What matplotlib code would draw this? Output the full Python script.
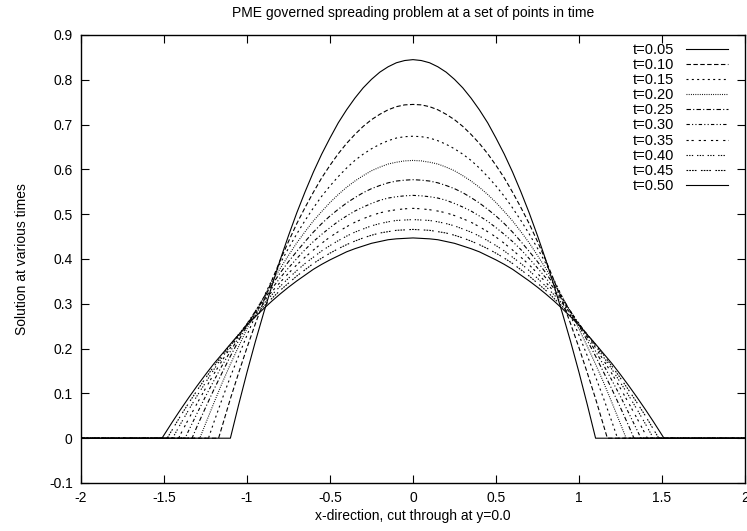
import numpy as np
import matplotlib
matplotlib.use("Agg")
import matplotlib.pyplot as plt

plt.rcParams['font.family'] = ['Liberation Sans', 'DejaVu Sans']

# time levels shown in the legend
times = [0.05, 0.10, 0.15, 0.20, 0.25, 0.30, 0.35, 0.40, 0.45, 0.50]

# half profile (x >= 0), curves are symmetric about x = 0
x_half = [0.00, 0.05, 0.10, 0.15, 0.20, 0.25, 0.30, 0.35, 0.40, 0.45,
          0.50, 0.55, 0.60, 0.65, 0.70, 0.75, 0.80, 0.85, 0.90, 0.95,
          1.00, 1.05, 1.10, 1.15, 1.20, 1.25, 1.30, 1.35, 1.40, 1.45, 1.50]

# values only listed inside the support
u_005 = [.845, .843, .838, .829, .817, .801, .782, .759, .733, .704, .670, .634, .594, .550, .503,
         .452, .398, .340, .279, .215, .147, .075]
u_010 = [.745, .744, .740, .733, .723, .711, .696, .678, .658, .635, .609, .581, .549, .515, .479,
         .439, .397, .352, .305, .255, .202, .146, .088, .026]
u_015 = [.674, .673, .670, .664, .656, .646, .634, .620, .603, .584, .563, .540, .514, .486, .456,
         .424, .390, .353, .314, .273, .230, .184, .137, .087, .035]
u_020 = [.620, .619, .616, .612, .605, .597, .586, .574, .560, .544, .526, .506, .485, .461, .436,
         .408, .379, .348, .315, .281, .244, .205, .165, .123, .078, .032]
u_025 = [.577, .576, .574, .570, .564, .557, .548, .537, .525, .511, .496, .479, .460, .439, .417,
         .394, .369, .342, .313, .283, .251, .218, .183, .146, .108, .068, .027]
u_030 = [.542, .541, .539, .536, .531, .524, .516, .507, .496, .484, .470, .455, .439, .421, .401,
         .380, .358, .334, .309, .283, .255, .225, .194, .162, .128, .093, .056, .018]
u_035 = [.513, .512, .510, .507, .503, .497, .490, .482, .472, .461, .449, .435, .420, .404, .387,
         .368, .348, .327, .305, .281, .256, .229, .202, .173, .143, .111, .078, .044, .009]
u_040 = [.488, .487, .486, .483, .479, .474, .467, .460, .451, .441, .430, .418, .404, .390, .374,
         .357, .339, .320, .300, .278, .255, .231, .206, .180, .153, .124, .095, .064, .032]
u_045 = [.466, .465, .464, .461, .458, .453, .447, .440, .432, .423, .413, .402, .390, .376, .362,
         .346, .330, .312, .294, .274, .254, .232, .209, .185, .160, .134, .107, .079, .050, .019]
u_050 = [.447, .446, .445, .443, .439, .435, .429, .423, .416, .407, .398, .388, .377, .364, .351,
         .337, .322, .306, .289, .271, .252, .231, .210, .188, .166, .142, .117, .091, .064, .036, .007]

# position of the front (where the solution drops to zero)
fronts = [1.100, 1.171, 1.232, 1.284, 1.331, 1.373, 1.412, 1.448, 1.481, 1.512]

profiles = [u_005, u_010, u_015, u_020, u_025, u_030, u_035, u_040, u_045, u_050]

x_min, x_max = -2.0, 2.0

# gnuplot style dash patterns
styles = [
    '-',
    (0, (4, 2.2)),
    (0, (1.8, 3)),
    (0, (0.8, 1.2)),
    (0, (4, 2, 1, 2)),
    (0, (3, 2, 1, 2, 1, 2)),
    (0, (2, 2.5, 2, 4.5)),
    (0, (1.2, 1.2, 1.2, 1.2, 1.2, 3.5)),
    (0, (1.5, 1, 1.5, 1, 1.5, 1, 1.5, 4)),
    '-',
]

fig = plt.figure(figsize=(7.47, 5.31), dpi=100)
ax = fig.add_axes([0.1084, 0.0904, 0.8889, 0.8437])

for t, u, r, ls in zip(times, profiles, fronts, styles):
    xs = np.array(x_half[:len(u)])
    us = np.array(u)
    x = np.concatenate([[x_min, -r], -xs[::-1], xs[1:], [r, x_max]])
    y = np.concatenate([[0.0, 0.0], us[::-1], us[1:], [0.0, 0.0]])
    ax.plot(x, y, color='black', lw=0.8, linestyle=ls, label=f't={t:.2f}')

ax.set_xlim(x_min, x_max)
ax.set_ylim(-0.1, 0.9)
ax.set_xticks(np.arange(-2, 2.01, 0.5))
ax.set_yticks(np.arange(-0.1, 0.91, 0.1))
ax.set_xticklabels(['-2', '-1.5', '-1', '-0.5', '0', '0.5', '1', '1.5', '2'])
ax.set_yticklabels(['-0.1', '0', '0.1', '0.2', '0.3', '0.4', '0.5', '0.6', '0.7', '0.8', '0.9'])
ax.tick_params(direction='in', length=6, width=0.8, top=True, right=True,
               labelsize=10, pad=6)
for sp in ax.spines.values():
    sp.set_linewidth(1.0)

ax.set_title('PME governed spreading problem at a set of points in time',
             fontsize=10, pad=13)
ax.set_xlabel('x-direction, cut through at y=0.0', fontsize=10, labelpad=3)
ax.set_ylabel('Solution at various times', fontsize=10, labelpad=14)

leg = ax.legend(loc='upper right', bbox_to_anchor=(0.975, 0.983),
                frameon=False, markerfirst=False, borderpad=0, borderaxespad=0,
                fontsize=10.5, handlelength=2.9, handletextpad=0.8,
                labelspacing=0.08)

fig.savefig('out.png', dpi=100)
